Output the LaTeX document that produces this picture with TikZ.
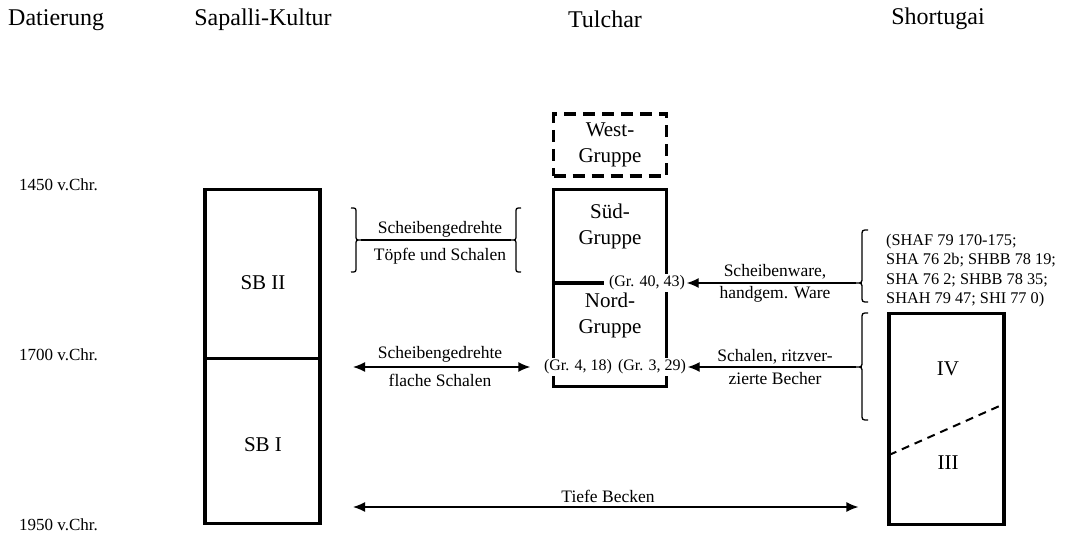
\documentclass[tikz,border=0pt]{standalone}
\usepackage{fontspec}
\setmainfont{Liberation Serif}
\usetikzlibrary{arrows.meta}
\begin{document}
\begin{tikzpicture}[x=1pt,y=-1pt,
  hdr/.style={font=\fontsize{24}{28}\selectfont, inner sep=0pt},
  datelbl/.style={font=\fontsize{17}{20}\selectfont, inner sep=0pt, anchor=west},
  lbl/.style={font=\fontsize{21}{26}\selectfont, inner sep=0pt, align=center},
  albl/.style={font=\fontsize{17.5}{21}\selectfont, inner sep=0pt},
  gr/.style={font=\fontsize{16}{19}\selectfont, inner sep=1.5pt, fill=white},
  lst/.style={font=\fontsize{16.3}{19.2}\selectfont, inner sep=0pt, align=left, anchor=west},
  boxnode/.style={draw, line width=3.2pt, inner sep=0pt},
  thickline/.style={line width=3.2pt},
  arr/.style={line width=1.4pt, -{Latex[length=12pt,width=10pt]}},
  darr/.style={line width=1.4pt, {Latex[length=12pt,width=10pt]}-{Latex[length=12pt,width=10pt]}},
  brc/.style={line width=1.3pt},
]
\useasboundingbox (0,0) rectangle (1067,534);
\fill[white] (0,0) rectangle (1067,534);

% headers
\node[hdr, anchor=west] (hd) at (8,20) {Datierung};
\node[hdr] (hs) at (263,20) {Sapalli-Kultur};
\node[hdr] (ht) at (605,19) {Tulchar};
\node[hdr] (hsh) at (938,19) {Shortugai};

% dates
\node[datelbl] (d1) at (19,185) {1450 v.Chr.};
\node[datelbl] (d2) at (19,355) {1700 v.Chr.};
\node[datelbl] (d3) at (19,525) {1950 v.Chr.};

% Sapalli boxes
\node[boxnode, minimum width=115pt, minimum height=169pt] (sb2) at (262.5,274) {};
\node[boxnode, minimum width=115pt, minimum height=165pt] (sb1) at (262.5,441) {};
\node[lbl] (sb2t) at (263,283) {SB II};
\node[lbl] (sb1t) at (263,445) {SB I};

% top braces
\draw[brc] (351,208) .. controls (356,208) .. (356,213) -- (356,235) .. controls (356,240) .. (361,240) .. controls (356,240) .. (356,245) -- (356,267) .. controls (356,272) .. (351,272);
\coordinate (bl) at (361,240);
\draw[brc] (521,208) .. controls (516,208) .. (516,213) -- (516,235) .. controls (516,240) .. (511,240) .. controls (516,240) .. (516,245) -- (516,267) .. controls (516,272) .. (521,272);
\coordinate (br) at (511,240);
\draw[brc] (bl) -- (br);
\node[albl] (t1a) at (440,229) {Scheibengedrehte};
\node[albl] (t1b) at (440,256) {Töpfe und Schalen};

% Tulchar
\node[boxnode, dash pattern=on 12pt off 7pt, minimum width=113pt, minimum height=62pt] (west) at (610,145) {};
\node[lbl] (westt) at (610,145) {West-\\Gruppe};
\node[boxnode, minimum width=113pt, minimum height=197pt] (tul) at (610,288) {};
\node[lbl] (sued) at (610,226.5) {Süd-\\Gruppe};
\node[lbl] (nord) at (610,315.5) {Nord-\\Gruppe};
\node[gr] (g4043) at (647,283) {(Gr. 40, 43)};
\draw[thickline] (tul.west |- g4043) -- ([xshift=-3pt]g4043.west);
\node[gr] (g418) at (578,367) {(Gr. 4, 18)};
\node[gr] (g329) at (652,367) {(Gr. 3, 29)};

% flache Schalen double arrow
\coordinate (l1) at (353,367);
\draw[darr] (l1) -- ([xshift=-12pt]g418.west);
\node[albl] (t2a) at (440,354) {Scheibengedrehte};
\node[albl] (t2b) at (440,380) {flache Schalen};

% Shortugai brace 1
\draw[brc] (868,230) .. controls (862,230) .. (862,236) -- (862,277) .. controls (862,283) .. (856,283) .. controls (862,283) .. (862,289) -- (862,296) .. controls (862,302) .. (868,302);
\coordinate (s1) at (856,283);
\draw[arr] (s1) -- (g4043.east);
\node[albl] (t3a) at (775,272) {Scheibenware,};
\node[albl] (t3b) at (775,294) {handgem. Ware};
\node[lst] (list) at (886,270.5) {(SHAF 79 170-175;\\SHA 76 2b; SHBB 78 19;\\SHA 76 2; SHBB 78 35;\\SHAH 79 47; SHI 77 0)};

% Shortugai brace 2
\draw[brc] (868,313) .. controls (862,313) .. (862,319) -- (862,361) .. controls (862,367) .. (856,367) .. controls (862,367) .. (862,373) -- (862,414) .. controls (862,420) .. (868,420);
\coordinate (s2) at (856,367);
\draw[arr] (s2) -- (g329.east);
\node[albl] (t4a) at (775,357) {Schalen, ritzver-};
\node[albl] (t4b) at (775,379) {zierte Becher};

% Shortugai box
\node[boxnode, minimum width=115pt, minimum height=211pt] (shb) at (946.5,419) {};
\draw[line width=2pt, dash pattern=on 8pt off 6pt] (889,455) -- (1004,404);
\node[lbl] (iv) at (948,369) {IV};
\node[lbl] (iii) at (948,463) {III};

% Tiefe Becken
\coordinate (l3) at (353,507);
\draw[darr, shorten >=29pt] (l3) -- (shb.west |- l3);
\node[albl] (t5) at (608,496) {Tiefe Becken};
\end{tikzpicture}
\end{document}
